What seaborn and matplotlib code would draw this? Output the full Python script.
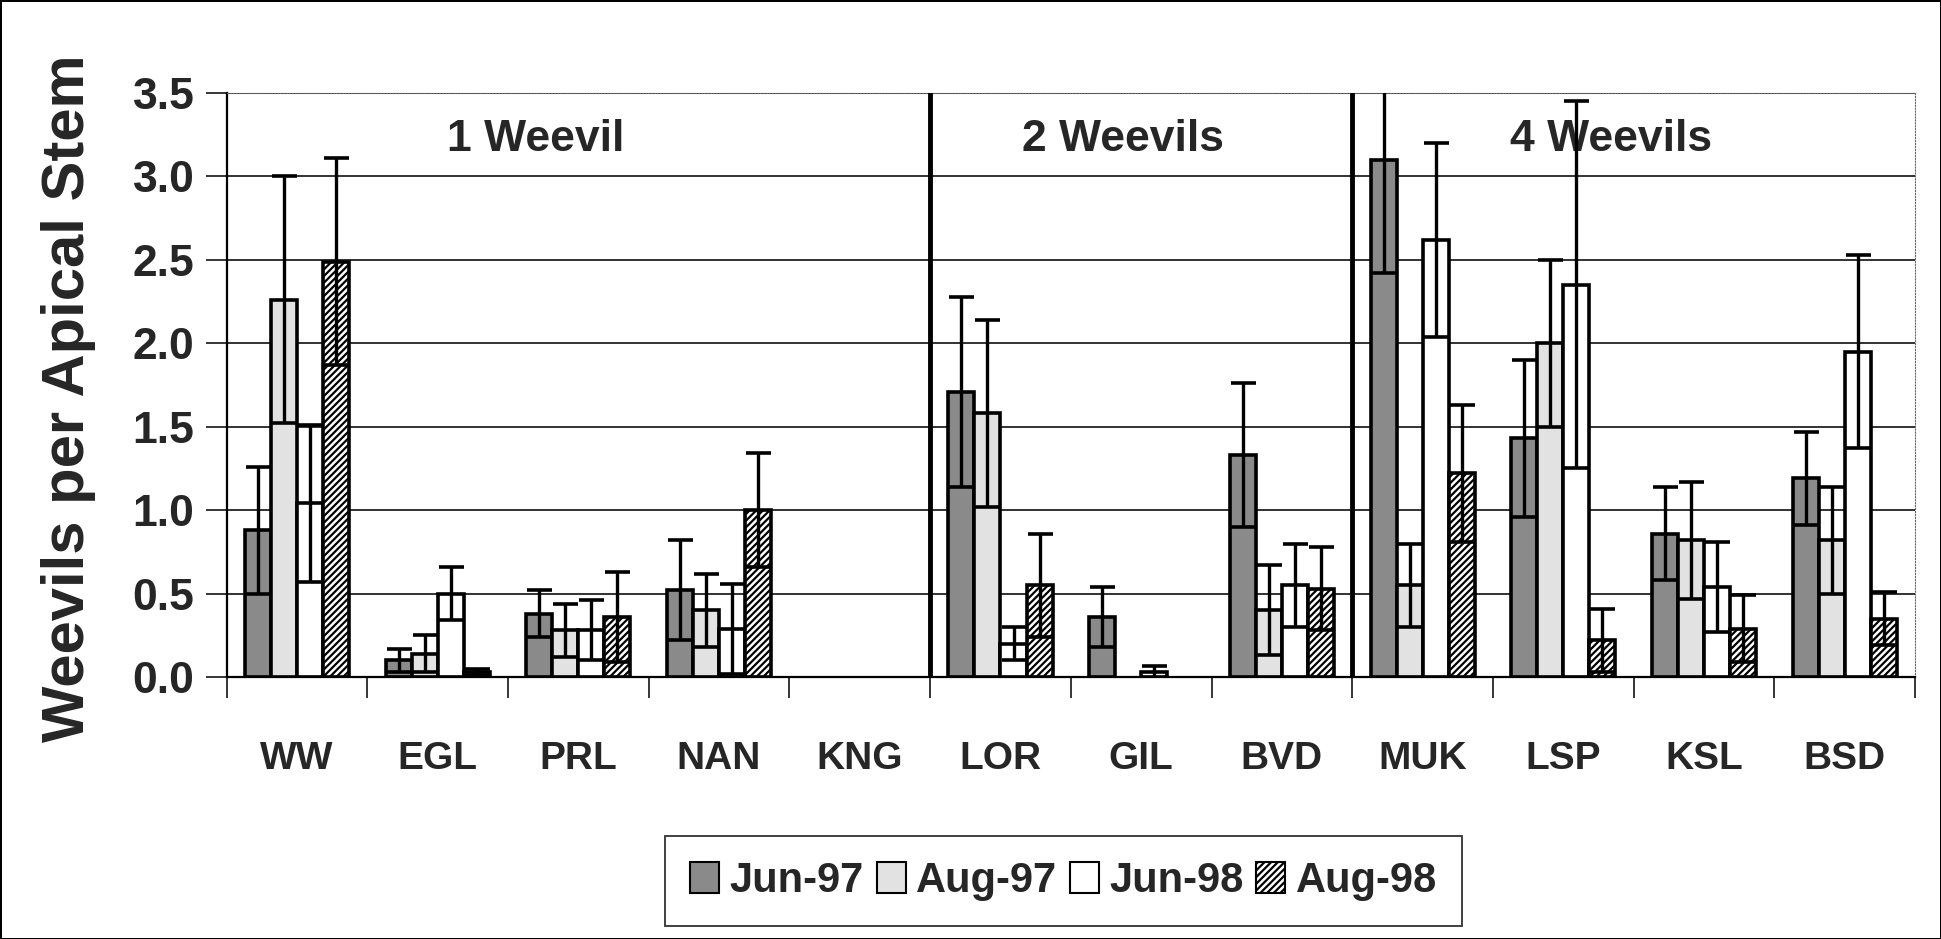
import seaborn as sns
import matplotlib.pyplot as plt
import matplotlib.ticker as ticker
from matplotlib.patches import Patch
from matplotlib.container import BarContainer
import numpy as np
import pandas as pd

nan = np.nan

# categories and sampling dates
cats = ['WW', 'EGL', 'PRL', 'NAN', 'KNG', 'LOR', 'GIL', 'BVD', 'MUK', 'LSP', 'KSL', 'BSD']
periods = ['Jun-97', 'Aug-97', 'Jun-98', 'Aug-98']

# mean weevils per apical stem and standard errors
jun97 = [0.88, 0.10, 0.38, 0.52, nan, 1.71, 0.36, 1.33, 3.10, 1.43, 0.86, 1.19]
jun97_se = [0.38, 0.07, 0.14, 0.30, nan, 0.57, 0.18, 0.43, 0.68, 0.47, 0.28, 0.28]
aug97 = [2.26, 0.14, 0.28, 0.40, nan, 1.58, nan, 0.40, 0.55, 2.00, 0.82, 0.82]
aug97_se = [0.74, 0.11, 0.16, 0.22, nan, 0.56, nan, 0.27, 0.25, 0.50, 0.35, 0.32]
jun98 = [1.04, 0.50, 0.28, 0.29, nan, 0.20, 0.03, 0.55, 2.62, 2.35, 0.54, 1.95]
jun98_se = [0.47, 0.16, 0.18, 0.27, nan, 0.10, 0.035, 0.25, 0.58, 1.10, 0.27, 0.58]
aug98 = [2.49, 0.03, 0.36, 1.00, nan, 0.55, nan, 0.53, 1.22, 0.22, 0.29, 0.35]
aug98_se = [0.62, 0.02, 0.27, 0.34, nan, 0.31, nan, 0.25, 0.41, 0.19, 0.20, 0.16]

groups = ['1 Weevil', '2 Weevils', '4 Weevils']
group_x = [1.7, 5.87, 9.34]

means = [jun97, aug97, jun98, aug98]
errs = [jun97_se, aug97_se, jun98_se, aug98_se]

rows = []
for p, vals in zip(periods, means):
	for c, v in zip(cats, vals):
		rows.append({'cat': c, 'period': p, 'val': v})
data = pd.DataFrame(rows)

sns.set_style("white")
plt.rcParams['font.family'] = ['Liberation Sans Narrow', 'Liberation Sans', 'DejaVu Sans']
plt.rcParams['font.weight'] = 'bold'
plt.rcParams['hatch.linewidth'] = 1.6

fig = plt.figure(figsize=(19.41, 9.39), dpi=100)
ax = fig.add_axes([0.1167, 0.279, 0.87, 0.622])

# fill / hatch per series
faces = ['#8a8a8a', '#e2e2e2', 'white', 'white']
hatches = ['', '', '', '/////']

ax = sns.barplot(data=data, x='cat', y='val', hue='period', order=cats, hue_order=periods,
				 width=0.74, errorbar=None, edgecolor='black', linewidth=2.6,
				 palette=faces, legend=False, ax=ax, zorder=2)

bar_conts = [c for c in ax.containers if isinstance(c, BarContainer)]
for j, cont in enumerate(bar_conts):
	for bar in cont.patches:
		if bar is None:
			continue
		bar.set_facecolor(faces[j])
		bar.set_hatch(hatches[j])
		bar.set_edgecolor('black')
		xc = bar.get_x() + bar.get_width() / 2
		i = int(round(xc))
		e = errs[j][i]
		h = bar.get_height()
		if np.isnan(e) or np.isnan(h):
			continue
		ax.errorbar(xc, h, yerr=e, fmt='none', ecolor='black', elinewidth=2.4,
					capsize=9, capthick=2.6, zorder=3)

ax.set_ylim(0, 3.5)
ax.set_xlim(-0.5, len(cats) - 0.5)
ax.yaxis.set_major_locator(ticker.MultipleLocator(0.5))
ax.yaxis.set_major_formatter(ticker.FormatStrFormatter('%.1f'))
ax.set_axisbelow(True)
ax.grid(axis='y', color='#222222', linewidth=1.3, zorder=0)

# x ticks sit between categories
ax.set_xticks(np.arange(len(cats)))
ax.set_xticklabels(cats)
ax.xaxis.set_minor_locator(ticker.FixedLocator(np.arange(-0.5, len(cats), 1.0)))
ax.tick_params(axis='x', which='major', length=0, pad=46, labelsize=28)
ax.tick_params(axis='x', which='minor', length=15, width=1.3, direction='out', bottom=True)
ax.tick_params(axis='y', length=15, width=1.3, direction='out', left=True, pad=8, labelsize=32)

for s in ['left', 'bottom']:
	ax.spines[s].set_color('black')
	ax.spines[s].set_linewidth(1.6)
ax.spines['top'].set_color('#666666')
ax.spines['top'].set_linestyle(':')
ax.spines['right'].set_color('#666666')
ax.spines['right'].set_linestyle(':')

# dividers between weevil densities
for xv in [4.5, 7.5]:
	ax.axvline(xv, color='black', linewidth=3.5, zorder=4)

for g, gx in zip(groups, group_x):
	ax.text(gx, 3.22, g, ha='center', va='center', fontsize=32, fontweight='bold', zorder=1)

ax.set_xlabel("")
ax.set_ylabel("Weevils per Apical Stem", fontsize=43, fontweight='bold')
ax.yaxis.set_label_coords(-0.077, 0.477)

handles = [Patch(facecolor=faces[j], edgecolor='black', hatch=hatches[j], linewidth=1.5) for j in range(4)]
leg = fig.legend(handles, periods, loc='center', bbox_to_anchor=(0.548, 0.062), ncol=4,
				 fontsize=30, frameon=True, fancybox=False, edgecolor='black',
				 handlelength=0.7, handleheight=0.75, handletextpad=0.25, columnspacing=0.3,
				 borderpad=0.6, borderaxespad=0.2)
leg.get_frame().set_linewidth(1.3)

fig.patch.set_edgecolor('black')
fig.patch.set_linewidth(2)

plt.savefig('out.png', dpi=100, edgecolor=fig.get_edgecolor())
